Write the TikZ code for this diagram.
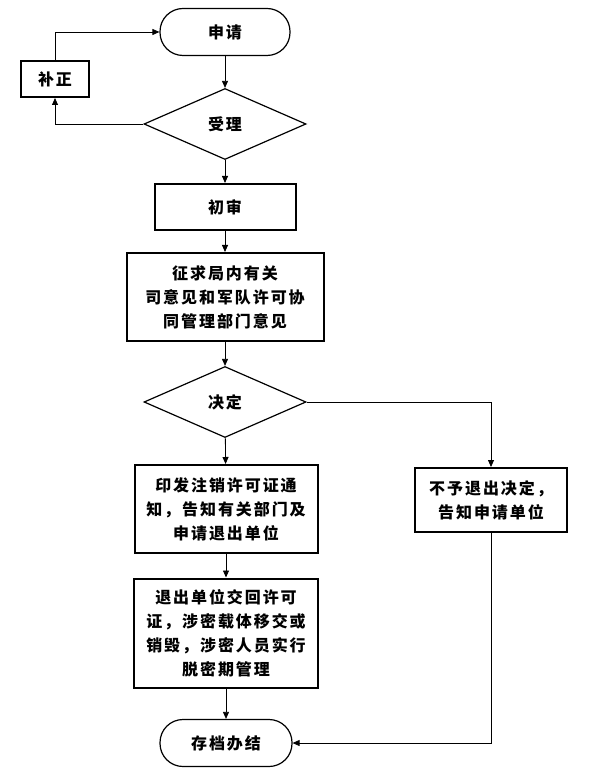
\documentclass[tikz,border=0pt]{standalone}
\usepackage{fontspec}
\setmainfont{Noto Sans CJK SC}[LetterSpace=12]
\usetikzlibrary{shapes.geometric,arrows.meta}

\tikzset{
  txt/.style={font=\fontsize{16}{24}\selectfont\bfseries, align=center, inner sep=0pt},
  stadium/.style={txt, draw, line width=1.2pt, rounded corners=23pt},
  stepbox/.style={txt, draw, line width=2pt},
  choice/.style={txt, draw, diamond, line width=1.2pt},
  flow/.style={line width=0.8pt, -{Triangle[length=7pt,width=6pt]}}
}

\begin{document}
\begin{tikzpicture}[x=1pt,y=-1pt]
\useasboundingbox (0,0) rectangle (592,775);
% Start with the main column, from top to bottom
\node[stadium, minimum width=130pt, minimum height=47pt] (apply) at (225,32) {申请};
\node[stepbox, minimum width=68pt, minimum height=36pt] (amend) at (55,79) {补正};
\node[choice, minimum width=162pt, minimum height=71pt] (accept) at (225,124) {受理};
\node[stepbox, minimum width=141pt, minimum height=46pt] (review) at (225,207) {初审};
\node[stepbox, minimum width=197pt, minimum height=88pt] (opinion) at (225,297)
    {征求局内有关\\司意见和军队许可协\\同管理部门意见};
\node[choice, minimum width=162pt, minimum height=71pt] (decide) at (225,402) {决定};
\node[stepbox, minimum width=183pt, minimum height=88pt] (notice) at (226,509)
    {印发注销许可证通\\知，告知有关部门及\\申请退出单位};
\node[stepbox, minimum width=184pt, minimum height=109pt] (handin) at (226,633)
    {退出单位交回许可\\证，涉密载体移交或\\销毁，涉密人员实行\\脱密期管理};
\node[stadium, minimum width=132pt, minimum height=47pt] (archive) at (226,743) {存档办结};
% Side branch for a refused exit
\node[stepbox, minimum width=152pt, minimum height=64pt] (refuse) at (491,500)
    {不予退出决定，\\告知申请单位};

% Arrows down the main column
\draw[flow] (apply) -- (accept);
\draw[flow] (accept) -- (review);
\draw[flow] (review) -- (opinion);
\draw[flow] (opinion) -- (decide);
\draw[flow] (decide) -- (notice);
\draw[flow] (notice) -- (handin);
\draw[flow] (handin) -- (archive);
% The amending loop on the left
\draw[flow] (accept.west) -| (amend.south);
\draw[flow] (amend.north) |- (apply.west);
% The refusal branch on the right
\draw[flow] (decide.east) -| (refuse.north);
\draw[flow] (refuse.south) |- (archive.east);
\end{tikzpicture}
\end{document}
